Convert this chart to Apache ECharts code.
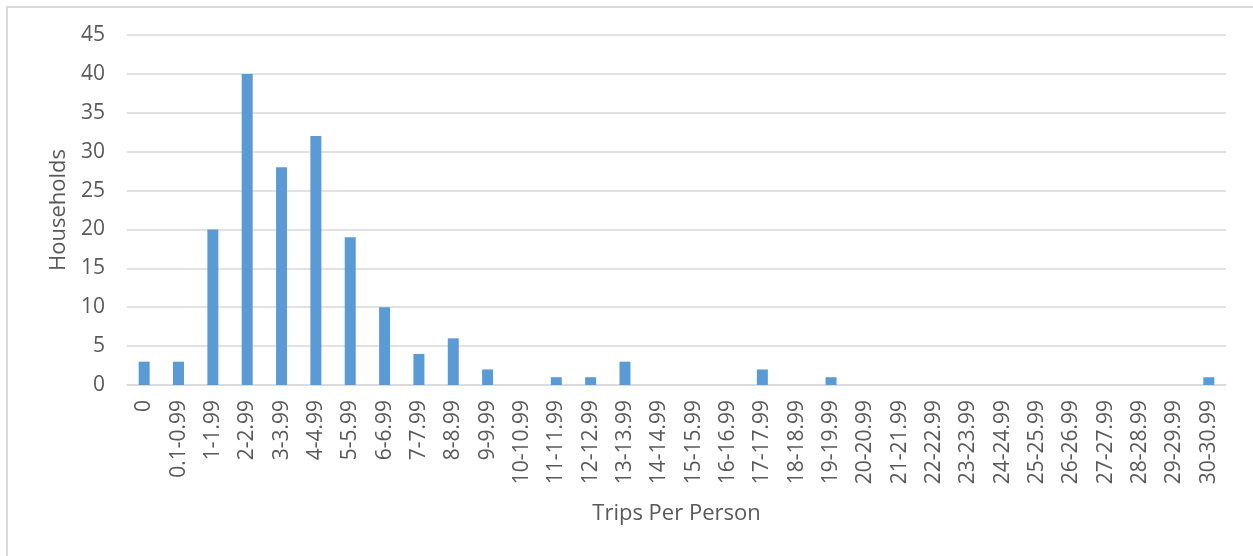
<!DOCTYPE html>
<html>
<head>
<meta charset="utf-8">
<script src="https://cdn.jsdelivr.net/npm/echarts@6/dist/echarts.min.js"></script>
<style>
  html, body { margin: 0; padding: 0; background: #ffffff; }
  #chart { width: 1253px; height: 556px; }
</style>
</head>
<body>
<div id="chart"></div>
<script>
// Trip-rate bins (trips per person)
const categories = [
  '0', '0.1-0.99', '1-1.99', '2-2.99', '3-3.99', '4-4.99', '5-5.99', '6-6.99',
  '7-7.99', '8-8.99', '9-9.99', '10-10.99', '11-11.99', '12-12.99', '13-13.99',
  '14-14.99', '15-15.99', '16-16.99', '17-17.99', '18-18.99', '19-19.99',
  '20-20.99', '21-21.99', '22-22.99', '23-23.99', '24-24.99', '25-25.99',
  '26-26.99', '27-27.99', '28-28.99', '29-29.99', '30-30.99'
];

// Number of households in each bin
const households = [
  3, 3, 20, 40, 28, 32, 19, 10,
  4, 6, 2, 0, 1, 1, 3,
  0, 0, 0, 2, 0, 1,
  0, 0, 0, 0, 0, 0,
  0, 0, 0, 0, 1
];

const xAxisTitle = 'Trips Per Person';
const yAxisTitle = 'Households';

const FONT = '"Open Sans", "Liberation Sans", sans-serif';
const TEXT = '#595959';
const GRID = '#d9d9d9';

const chart = echarts.init(document.getElementById('chart'), null, { renderer: 'canvas' });

chart.setOption({
  backgroundColor: '#ffffff',
  animation: false,
  textStyle: { fontFamily: FONT },
  graphic: [{
    type: 'rect',
    shape: { x: 7, y: 7, width: 1260, height: 560 },
    style: { fill: 'none', stroke: GRID, lineWidth: 2 },
    silent: true
  }],
  grid: { left: 127, right: 27, top: 35, bottom: 171, containLabel: false },
  xAxis: {
    type: 'category',
    data: categories,
    name: xAxisTitle,
    nameLocation: 'middle',
    nameGap: 118,
    nameTextStyle: { color: TEXT, fontSize: 22, fontFamily: FONT },
    axisLine: { show: true, lineStyle: { color: GRID, width: 1.5 } },
    axisTick: { show: false },
    axisLabel: {
      interval: 0,
      rotate: 90,
      margin: 15,
      color: TEXT,
      fontSize: 21,
      fontFamily: FONT
    }
  },
  yAxis: {
    type: 'value',
    min: 0,
    max: 45,
    interval: 5,
    name: yAxisTitle,
    nameLocation: 'middle',
    nameGap: 55,
    nameTextStyle: { color: TEXT, fontSize: 22, fontFamily: FONT },
    axisLine: { show: false },
    axisTick: { show: false },
    axisLabel: { color: TEXT, fontSize: 21, fontFamily: FONT, margin: 22 },
    splitLine: { show: true, lineStyle: { color: GRID, width: 1.5 } }
  },
  series: [{
    type: 'bar',
    data: households,
    barWidth: 11,
    itemStyle: { color: '#5b9bd5' }
  }]
});
</script>
</body>
</html>
